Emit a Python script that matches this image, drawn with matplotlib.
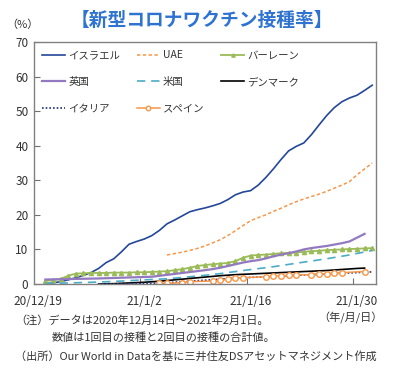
import matplotlib
matplotlib.use("Agg")
import matplotlib.pyplot as plt

plt.rcParams['font.family'] = ['Noto Sans CJK JP', 'DejaVu Sans']

# ---- data (x = days since 2020-12-19) ----
tick_labels = ["20/12/19", "21/1/2", "21/1/16", "21/1/30"]
tick_days = [0, 14, 28, 42]

israel_days = list(range(1, 45))
israel_vals = [0.1, 0.3, 0.7, 1.2, 1.8, 2.5, 3.3, 4.5, 6.2, 7.3,
               9.3, 11.5, 12.3, 13.0, 14.0, 15.5, 17.4, 18.5, 19.7, 20.9,
               21.5, 22.0, 22.6, 23.3, 24.4, 25.8, 26.6, 27.0, 28.6, 30.8,
               33.3, 36.0, 38.5, 39.8, 40.8, 43.2, 46.0, 48.7, 51.0, 52.7,
               53.8, 54.6, 56.0, 57.5]

uae_days = list(range(17, 45))
uae_vals = [8.4, 8.8, 9.2, 9.7, 10.3, 11.0, 11.9, 12.8, 14.0, 15.4,
            16.9, 18.3, 19.2, 20.0, 21.0, 21.9, 22.9, 23.8, 24.6, 25.3,
            26.0, 26.8, 27.7, 28.6, 29.6, 31.6, 33.3, 35.0]

bahrain_days = list(range(1, 45))
bahrain_vals = [0.9, 1.1, 1.5, 2.4, 3.0, 3.1, 3.2, 3.2, 3.2, 3.3,
                3.3, 3.3, 3.4, 3.4, 3.5, 3.6, 3.7, 4.0, 4.3, 4.7,
                5.2, 5.5, 5.7, 5.9, 6.1, 6.6, 7.6, 8.2, 8.4, 8.5,
                8.7, 8.9, 9.0, 9.1, 9.3, 9.5, 9.6, 9.8, 9.9, 10.0,
                10.1, 10.2, 10.3, 10.4]

uk_days = [1, 8, 15] + list(range(22, 44))
uk_vals = [1.3, 1.6, 2.1, 4.0, 4.3, 4.7, 5.2, 5.7, 6.2, 6.6, 6.9, 7.4,
           8.0, 8.5, 8.9, 9.4, 10.0, 10.4, 10.7, 11.0, 11.4, 11.8, 12.3,
           13.4, 14.5]

us_days = [1, 4, 7, 9, 11, 14, 17, 19, 21, 24, 27, 31, 34, 38, 41, 44]
us_vals = [0.15, 0.3, 0.5, 0.65, 0.85, 1.2, 1.5, 1.9, 2.3, 3.0, 3.9,
           5.0, 6.0, 7.3, 8.4, 9.7]

denmark_days = [8, 10, 12, 14, 16, 18, 20, 22, 24, 26, 28, 30, 32, 34,
                36, 38, 40, 42, 43]
denmark_vals = [0.0, 0.1, 0.3, 0.5, 0.8, 1.2, 1.6, 2.0, 2.4, 2.7, 2.9,
                3.1, 3.3, 3.5, 3.7, 3.9, 4.2, 4.5, 4.6]

italy_days = [8, 10, 12, 14, 16, 18, 20, 22, 24, 26, 28, 30, 32, 34,
              36, 38, 40, 42, 44]
italy_vals = [0.0, 0.02, 0.1, 0.15, 0.25, 0.5, 0.8, 1.1, 1.4, 1.7, 1.9,
              2.1, 2.3, 2.5, 2.7, 2.9, 3.1, 3.3, 3.5]

spain_days = [16, 17, 19, 20, 23, 24, 25, 26, 27, 30, 31, 32, 33, 34,
              36, 37, 38, 39, 40, 43]
spain_vals = [0.2, 0.2, 0.4, 0.66, 0.87, 1.06, 1.35, 1.65, 1.83, 2.1,
              2.3, 2.4, 2.5, 2.6, 2.7, 2.9, 3.0, 3.1, 3.3, 3.6]

# ---- figure ----
fig = plt.figure(figsize=(4.08, 3.70), dpi=100)
ax = fig.add_axes([34/408, 1-284/370, (376-34)/408, (284-42)/370])

c_orange = "#F79646"
h_isr, = ax.plot(israel_days, israel_vals, color="#24479A", lw=1.2, label="イスラエル")
h_uae, = ax.plot(uae_days, uae_vals, color=c_orange, lw=1.1, ls=(0, (2.2, 1.6)), label="UAE")
h_bah, = ax.plot(bahrain_days, bahrain_vals, color="#9BBB59", lw=1.3, marker="^",
                 ms=3, mec="#9BBB59", mfc="#9BBB59", label="バーレーン")
h_uk, = ax.plot(uk_days, uk_vals, color="#9379C0", lw=1.6, label="英国")
h_us, = ax.plot(us_days, us_vals, color="#4BACC6", lw=1.2, ls=(0, (5, 3.5)), label="米国")
h_den, = ax.plot(denmark_days, denmark_vals, color="black", lw=1.2, label="デンマーク")
h_ita, = ax.plot(italy_days, italy_vals, color="#1F2D80", lw=1.2, ls=(0, (1, 1.2)), label="イタリア")
h_spa, = ax.plot(spain_days, spain_vals, color=c_orange, lw=1.1, marker="o", ms=4,
                 mfc="white", mec=c_orange, mew=1.0, label="スペイン")

ax.set_xlim(-0.5, 44.5)
ax.set_ylim(0, 70)
ax.set_yticks(range(0, 71, 10))
ax.set_xticks([13.5, 27.5, 41.5])
ax.set_xticklabels([])
ax.set_xticks(tick_days, minor=True)
ax.set_xticklabels(tick_labels, minor=True)
ax.tick_params(axis="x", which="major", direction="in", length=4, color="#707070")
ax.tick_params(axis="x", which="minor", length=0, pad=8, labelsize=8.5, labelcolor="#333333")
ax.tick_params(axis="y", direction="in", length=4, color="#707070", labelsize=8.5,
               labelcolor="#333333", pad=4)
for s in ax.spines.values():
    s.set_color("#808080")
    s.set_linewidth(1.0)

handles = [h_isr, h_uk, h_ita, h_uae, h_us, h_spa, h_bah, h_den]
leg = ax.legend(handles=handles, ncol=3, loc="upper left", bbox_to_anchor=(0.0, 1.0),
                frameon=False, fontsize=7.5, handlelength=2.2, handletextpad=0.3,
                columnspacing=1.6, labelspacing=1.6, borderaxespad=0.4, markerscale=0.8)
for t in leg.get_texts():
    t.set_color("#333333")

fig.text(202/408, 1-20/370, "【新型コロナワクチン接種率】", ha="center", va="center",
         fontsize=13.5, fontweight="bold", color="#2E72D2")
fig.text(22/408, 1-25/370, "（%）", ha="center", va="center", fontsize=8, color="#333333")
fig.text(350/408, 1-318/370, "（年/月/日）", ha="center", va="center", fontsize=8, color="#333333")
fig.text(15/408, 1-320/370, "（注）データは2020年12月14日～2021年2月1日。", ha="left",
         va="center", fontsize=8, color="#333333")
fig.text(52/408, 1-338/370, "数値は1回目の接種と2回目の接種の合計値。", ha="left",
         va="center", fontsize=8, color="#333333")
fig.text(15/408, 1-356/370, "（出所）Our World in Dataを基に三井住友DSアセットマネジメント作成",
         ha="left", va="center", fontsize=8, color="#333333")

fig.savefig("out.png", dpi=100)
